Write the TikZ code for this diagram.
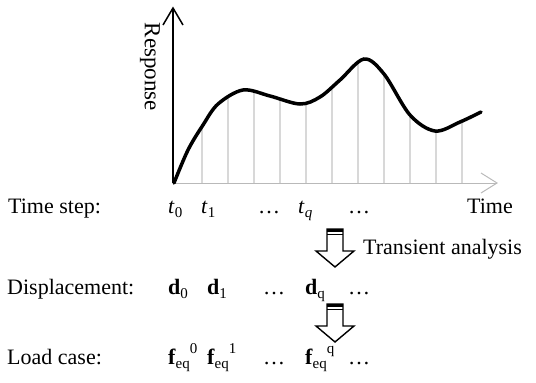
\documentclass[tikz,border=0pt]{standalone}
\usepackage{fontspec}
\setmainfont{Liberation Serif}
\usetikzlibrary{intersections}
\definecolor{gridgray}{RGB}{195,195,195}
\definecolor{axisgray}{RGB}{185,185,185}
\newcommand\lbsub[1]{\raisebox{-0.22em}{\fontsize{15}{15}\selectfont #1}}
\newcommand\lbsup[1]{\raisebox{0.5em}{\fontsize{15}{15}\selectfont #1}}
\tikzset{
  txt/.style={anchor=base west, inner sep=0pt, font=\fontsize{22}{26}\selectfont},
  blockarrow/.pic={
    \draw[line width=1.4pt, fill=white, line join=miter] (-8,0) -- (8,0) -- (8,22) -- (19,22) -- (0,38) -- (-19,22) -- (-8,22) -- cycle;
    \draw[line width=3pt] (-8,1.5) -- (8,1.5);
    \draw[line width=1pt] (-8,5) -- (8,5);
  }
}
\begin{document}
\begin{tikzpicture}[x=1pt,y=-1pt]
\useasboundingbox (0,0) rectangle (536,383);
% curve path (for intersections)
\path[name path=curve] plot[smooth, tension=0.55] coordinates {(174,183) (188,150) (203,125) (218,104) (243,90) (270,96) (300,104) (320,97) (340,80) (364,59) (384,74) (410,115) (435,131) (460,122) (481,112)};
% grid lines
\foreach \gx [count=\i] in {202,228,254,280,306,332,358,384,410,436,462} {
  \path[name path=v\i] (\gx,190) -- (\gx,20);
  \draw[gridgray, line width=1.1pt, name intersections={of=curve and v\i, by=p\i}] (\gx,183) -- (p\i);
}
% axes
\coordinate (o) at (173,183);
\coordinate (ytip) at (173,8);
\coordinate (xtip) at (497,183);
\draw[axisgray, line width=1pt] (o) -- (xtip);
\draw[axisgray, line width=1pt] (481,173) -- (xtip) -- (481,193);
\draw[line width=1.5pt] (o) -- (ytip);
\draw[line width=1.5pt, line join=miter] (163,25) -- (ytip) -- (183,25);
% curve
\draw[line width=3.5pt, line cap=round] plot[smooth, tension=0.55] coordinates {(174,183) (188,150) (203,125) (218,104) (243,90) (270,96) (300,104) (320,97) (340,80) (364,59) (384,74) (410,115) (435,131) (460,122) (481,112)};
% labels
\node[inner sep=0pt, rotate=-90, font=\fontsize{23}{26}\selectfont] (resp) at (150,67) {Response};
\node[txt] (time) at (467,213) {Time};
\node[txt] (ts) at (8,213) {Time step:};
\node[txt] (t0) at (168,213) {\textit{t}\lbsub{0}};
\node[txt] (t1) at (201,213) {\textit{t}\lbsub{1}};
\node[txt] (td1) at (258,213) {…};
\node[txt] (tq) at (298,213) {\textit{t}\lbsub{\textit{q}}};
\node[txt] (td2) at (348,213) {…};
\node[txt] (ta) at (363,254) {Transient analysis};
\node[txt] (disp) at (7,294) {Displacement:};
\node[txt] (d0) at (168,294) {\textbf{d}\lbsub{0}};
\node[txt] (d1) at (207,294) {\textbf{d}\lbsub{1}};
\node[txt] (dd1) at (263,294) {…};
\node[txt] (dq) at (305,294) {\textbf{d}\lbsub{q}};
\node[txt] (dd2) at (348,294) {…};
\node[txt] (lc) at (7,364) {Load case:};
\node[txt] (f0) at (168,364) {\textbf{f}\lbsub{eq}\lbsup{0}};
\node[txt] (f1) at (207,364) {\textbf{f}\lbsub{eq}\lbsup{1}};
\node[txt] (fd1) at (263,364) {…};
\node[txt] (fq) at (305,364) {\textbf{f}\lbsub{eq}\lbsup{q}};
\node[txt] (fd2) at (348,364) {…};
% block arrows
\pic at (335,229) {blockarrow};
\pic at (335,304) {blockarrow};
\end{tikzpicture}
\end{document}
